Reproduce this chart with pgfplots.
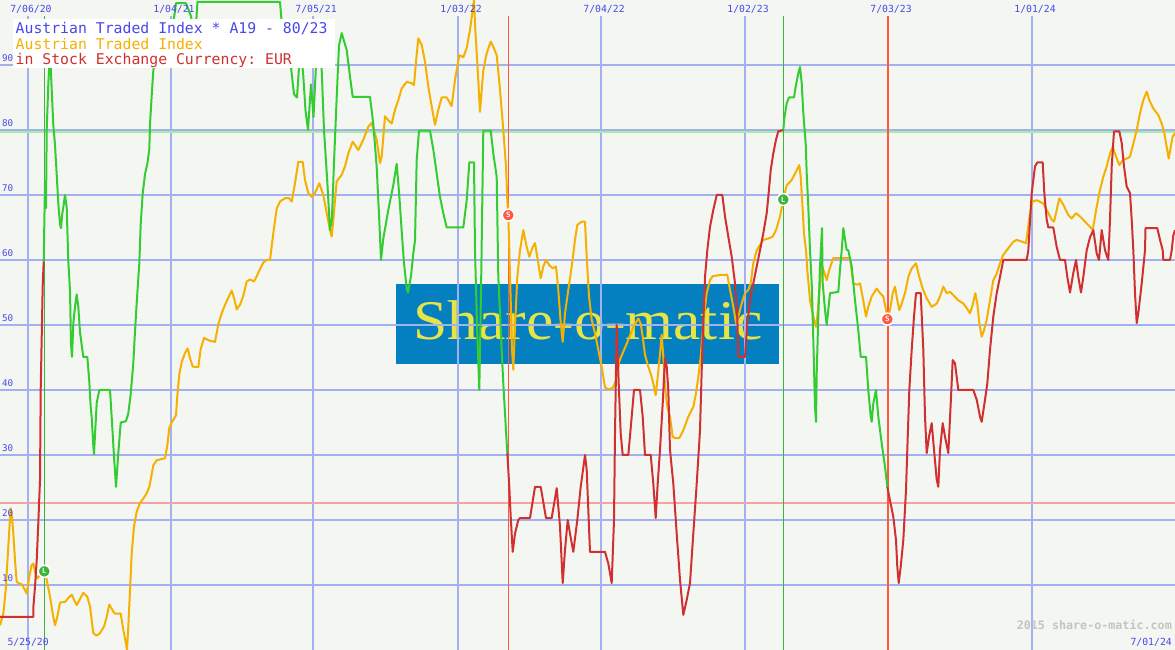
\documentclass[border=0pt]{standalone}
\usepackage{fontspec}
\setmainfont{Liberation Serif}
\setmonofont{DejaVu Sans Mono}
\usepackage{pgfplots}
\pgfplotsset{compat=1.18}

\definecolor{bg}{HTML}{F4F6F2}
\definecolor{gridblue}{HTML}{A3B1F1}
\definecolor{lblblue}{HTML}{4848E8}
\definecolor{sgreen}{HTML}{33CC33}
\definecolor{sorange}{HTML}{F5B000}
\definecolor{sred}{HTML}{D03030}
\definecolor{sigred}{HTML}{FF5A40}
\definecolor{siggreen}{HTML}{3CB43C}
\definecolor{thred}{HTML}{F4A3A3}
\definecolor{thgreen}{HTML}{A6EE9C}
\definecolor{logoblue}{HTML}{0480C0}
\definecolor{logoyellow}{HTML}{E8E446}
\definecolor{wmgrey}{HTML}{C4C4C4}

\tikzset{
  lbl/.style={inner sep=0pt, text=lblblue, font=\ttfamily\fontsize{9.8}{10}\selectfont},
  ttl/.style={anchor=base west, inner sep=0pt, font=\ttfamily\fontsize{14.8}{15}\selectfont},
}

\begin{document}
\begin{tikzpicture}
\fill[bg] (0,0) rectangle (1175pt,650pt);
\begin{axis}[
  at={(0,0)}, anchor=south west,
  width=1175pt, height=650pt, scale only axis,
  xmin=0, xmax=1175, ymin=0, ymax=100,
  hide axis, clip=true,
  every axis plot/.append style={line join=round},
]
% logo behind the grid
\node[fill=logoblue, minimum width=383pt, minimum height=80pt, inner sep=0pt, anchor=north west]
  at (axis cs:396,56.3) {};
\node[anchor=base, inner sep=0pt, font=\fontsize{56}{56}\selectfont, text=logoyellow, xscale=1.1]
  at (axis cs:588,47.8) {Share-o-matic};

% grid
\pgfplotsinvokeforeach{10,20,30,40,50,60,70,80,90}{
  \draw[gridblue, line width=2pt] (axis cs:0,#1) -- (axis cs:1175,#1);
}
\pgfplotsinvokeforeach{28,171,313,458,601,745,888,1032}{
  \draw[gridblue, line width=2pt] (axis cs:#1,0) -- (axis cs:#1,97.5);
}

% thresholds 80 / 23
\addplot[thgreen, line width=2pt] coordinates {(0,79.7) (1175,79.7)};
\addplot[thred, line width=2pt] coordinates {(0,22.6) (1175,22.6)};

% signal lines
\addplot[siggreen, line width=1pt] coordinates {(44.3,0) (44.3,97.5)};
\addplot[sigred, line width=1pt] coordinates {(508.3,0) (508.3,97.5)};
\addplot[siggreen, line width=1pt] coordinates {(783.3,0) (783.3,97.5)};
\addplot[sigred, line width=2pt] coordinates {(888,0) (888,97.5)};

% Austrian Traded Index (scaled)
\addplot[sorange, line width=2pt] coordinates {
(0,3.8) (3.3,5.6) (5.7,9.2) (7.3,13.3) (9.3,18.5) (10.7,21.8) (12,20.5) (13.3,18) (15,13.8)
(16.7,10.5) (18.3,10.3) (21.7,10.1) (24,9.5) (26.7,8.7) (29.3,11.3) (31.7,13.1) (33.3,13.3)
(35,12) (37,11) (40,11.5) (44.3,12.1) (46.7,10.8) (50,8.2) (52.7,5.6) (55,3.8) (57.3,5.1)
(60,7.3) (65,7.4) (68.3,8) (71.7,8.5) (76.7,6.9) (83.3,8.8) (87.3,8.2) (90,6.7) (93.3,2.6)
(96.7,2.2) (100,2.6) (104,3.6) (106.7,5.1) (109.3,7) (113.3,5.9) (115,5.6) (120.7,5.6)
(123.3,3.1) (126,1) (127,0) (128.3,3.6) (130,9.2) (131.7,14.9) (134,19) (136.7,21.3)
(140,22.6) (143.3,23.3) (146.7,24.1) (149.3,25.1) (150.7,26.2) (153.3,28.4) (156.7,29.2)
(165,29.5) (167.3,31.4) (169.3,34.2) (171.7,35) (176,36.1) (177.3,39.1) (179.3,42.4)
(181.7,44.3) (185,45.7) (187.7,46.4) (190,44.9) (192.7,43.6) (198.3,43.5) (200.7,46.3)
(204,48) (209.3,47.6) (215,47.4) (218.3,50.1) (221.7,51.8) (225,53.1) (228.3,54.2)
(231.7,55.3) (234.3,54) (236.7,52.4) (240,53.1) (243.3,54.5) (246.7,56.7) (250,57)
(254,56.7) (256.7,57.5) (260,58.6) (263.3,59.6) (266.7,60) (270,60) (273.3,64.1)
(276.7,67.9) (280,69) (285,69.5) (289,69.5) (291.7,69) (295,71.8) (298.3,75.1) (302.7,75.1)
(305,72.3) (308.3,70.3) (311.7,69.7) (315,70.3) (319.3,71.8) (323.3,70) (326.7,67.2)
(330,64.6) (331.7,63.6) (333.3,66.2) (336.7,72.1) (341.7,73.1) (345,74.4) (348.3,76.4)
(352.7,78.2) (358.3,76.9) (363.3,78.5) (368.3,80.5) (371.7,81.1) (376.7,78.5) (380,74.9)
(381.7,75.9) (385,82.1) (388.3,81.5) (391.7,81) (395,83.1) (398.3,84.6) (401.7,86.4)
(406.7,87.4) (411.7,87.2) (414,86.9) (416,90.5) (418.3,94.1) (421.7,93.1) (425,90.5)
(428.3,86.7) (431.7,83.6) (435,80.8) (438.3,83.1) (441.7,85) (446.7,85) (451.7,83.7)
(455,87.7) (459.3,91.5) (463.3,91.2) (466.7,92.6) (470,95.4) (472.7,98.5) (474,100)
(475.3,95.4) (477.3,90.3) (480,82.8) (483.3,89.2) (486.7,91.8) (490.7,93.6) (493.3,92.8)
(496.7,91.5) (500,86.2) (503.3,80) (506,74.4) (507.3,69.2) (508.3,66.9) (509.3,61.5)
(510.7,53.8) (512,46.2) (513.3,43.1) (515,49.7) (517.3,57.4) (520,61.5) (523.3,64.6)
(526.7,62) (529.3,60.5) (532.7,62) (535,62.6) (538.3,59.5) (540.7,57.2) (543.3,59) (546,60)
(549.3,59.2) (552.7,58.7) (556,59) (558.3,55.4) (560.7,50.3) (562.7,47.4) (565,51.8)
(568.3,55.4) (571.7,59) (575,63.1) (577.3,65.4) (581.7,65.9) (585,65.9) (586.7,60.5)
(589,54.4) (591.7,50.8) (595,48.7) (598.3,46.2) (601.7,43.6) (605,40.4) (608.3,40.1)
(612.7,40.3) (616,41.5) (619.3,44.4) (623.3,45.9) (628.3,47.7) (633.3,49.7) (638.3,51)
(640.7,50.2) (642.7,48.2) (645,45.4) (648.3,43.6) (651.7,42) (654,40.5) (655.7,39.2)
(657.7,42) (660,45.6) (661.7,48.5) (663.3,45.1) (665,40.5) (667.3,37.4) (670,35.9)
(672.7,32.8) (675,32.6) (679.3,32.6) (683.3,33.8) (688.3,35.9) (693.3,37.4) (696,39.5)
(698.3,42) (700.7,45.1) (703.3,50.3) (706.7,54.9) (710,56.9) (712.7,57.5) (720,57.7)
(727.3,57.7) (730,55.4) (733.3,52.8) (736,50.3) (738.3,51.3) (741.7,53.3) (745,54.9)
(748.3,55.4) (750.7,56.4) (753.3,59.5) (756.7,61.5) (760,62.3) (763.3,63.1) (768.3,63.3)
(772.7,63.6) (776,64.6) (780,66.7) (783.3,69.3) (786.7,71.5) (791.7,72.3) (795,73.3)
(799.3,74.6) (800.7,72.8) (802.3,68.7) (804,64.1) (806,61.5) (807.3,58.5) (810,53.8)
(813.3,51.3) (816,49.7) (817.3,51.3) (820,56.4) (821.7,59) (823.3,58.5) (826.7,56.9)
(829.3,58.5) (833.3,60.3) (850,60.3) (853.3,56.4) (856.7,56.2) (860,56.4) (863.3,53.8)
(866,51.3) (868.3,52.8) (871.7,54.4) (876.7,55.6) (880,54.9) (883.3,54.4) (886,52.3)
(887.3,50.9) (890,52.3) (892.7,54.9) (895,55.9) (897.3,53.8) (899.3,52.3) (901.7,53.3)
(905,54.9) (908.3,57.4) (911.7,58.7) (916,59.5) (919.3,57.4) (922.7,55.6) (926.7,54.1)
(931.7,52.8) (936.7,53.3) (940,54.4) (943.3,55.9) (946.7,54.9) (950,55.1) (953.3,54.6)
(958.3,53.8) (963.3,53.3) (966.7,52.6) (970,51.8) (972.7,53.1) (975.3,54.9) (977.3,53.3)
(979.3,50.3) (981.7,48.2) (984,49.2) (986.7,50.8) (990,53.8) (993.3,56.9) (996.7,57.9)
(1000,59.5) (1003.3,60.8) (1006.7,61.5) (1013.3,62.8) (1016.7,63.1) (1026,62.6)
(1027.3,64.1) (1030,67.2) (1032.7,69) (1036.7,69.2) (1043.3,68.7) (1046.7,67.7)
(1051.7,66.2) (1054,65.9) (1056,67.2) (1059.3,69.5) (1063.3,68.5) (1068.3,66.9)
(1071.7,66.4) (1076,67.2) (1080,66.7) (1085,65.9) (1090,65.1) (1092.7,64.6) (1096.7,68.2)
(1100,70.8) (1103.3,72.8) (1106.7,74.4) (1110,76.4) (1112.7,77.4) (1116,75.9) (1119.3,74.6)
(1123.3,75.4) (1126.7,75.6) (1130,75.9) (1133.3,77.9) (1136.7,80) (1140,82.6) (1143.3,84.6)
(1146.7,85.9) (1149.3,84.6) (1153.3,83.3) (1158.3,82.3) (1161.7,81) (1164.3,79.5)
(1166.7,77.4) (1168.7,75.6) (1170.7,77.4) (1172.7,79) (1175,79.5)
};

% A19 indicator: red while short, green while long
\addplot[sred, line width=2pt] coordinates {
(0,5.1) (33.3,5.1) (33.3,6.5) (35,9.7) (36.7,13.8) (38.3,19.5) (39.3,23.5) (40,26)
(40.7,40) (41.7,48) (42.7,56) (43.7,59.8)
};
\addplot[sgreen, line width=2pt] coordinates {
(43.7,59.8) (45,72) (46,68) (46.7,80) (48.3,87) (50,92) (53.3,80.8) (55,77.7) (56.7,73.2)
(58.3,68.7) (60,65.5) (61,64.9) (62,66.8) (63.3,68.1) (65,70) (66.7,68.1) (68.3,59.8)
(70,55.3) (71,47) (72,45.1) (73.3,50.2) (75,52.8) (76.7,54.7) (78.3,52.8) (80,48.9)
(83.3,45.1) (87.3,45.1) (89.3,41.3) (90.7,37.4) (91.7,35.8) (93.3,31.4) (94,30.1) (95,33.1)
(96.7,38) (99.3,40) (110,40) (111.7,35.8) (114,29.8) (116,25.1) (118.3,30.3) (120.7,35)
(126,35.2) (128.3,36.4) (130.7,39.4) (133.3,44.1) (135,49) (136.7,53.4) (139.3,59.5)
(140.7,65.5) (142.7,70.2) (145,73.2) (147.3,74.8) (149.3,77) (150,80.9) (151.7,85.3)
(153.3,89.1) (155,91) (160,93) (166,94) (172,95) (176,99.5) (186,99.5) (191,97.5) (195,94)
(197.5,99.7) (280,99.7) (282,96) (286,92) (290,91) (294,85.5) (297,85) (300,92) (303,89)
(305.5,83) (308,80) (311,87) (313.5,82) (316,90) (321,92) (324,80) (327.3,72) (330,64.6)
(332,66.5) (334,75) (336.7,85) (339,93) (341.7,94.9) (346.7,92.3) (350,88.2) (352.7,85.1)
(370,85.1) (373.3,80.9) (376.7,74.3) (379.3,66) (381,60) (383.3,63.3) (388.3,67.7)
(393.3,71.5) (396.7,74.8) (399.3,69.9) (401.7,64.4) (404,59.5) (406.7,55.6) (408,55)
(411,57.5) (413.3,61) (415,63) (416.7,75.4) (419,79.9) (430,79.9) (433.3,77) (436.7,73.3)
(440,69.7) (443.3,67.2) (446.7,65) (463.3,65) (466.7,69.2) (469.3,75) (474,75) (475,61.5)
(477,50) (479.3,40) (481,55) (483.3,79.9) (490.7,79.9) (493.3,76.4) (496.7,72.8)
(498.3,57.4) (501.7,46.1) (503.3,41) (505,36.4) (506.7,31.8) (507.3,30.3)
};
\addplot[sred, line width=2pt] coordinates {
(507.3,30.3) (509.3,25.1) (510.7,20.5) (512.7,15.1) (515,17.9) (518.3,20) (520,20.3)
(530,20.3) (535,25.1) (540.7,25.1) (546,20.3) (551.7,20.3) (556.7,24.9) (560,19)
(562.7,10.3) (565,15.4) (567.7,20) (570,17.9) (573.3,15.1) (577.3,20) (580.7,25.1) (585,30)
(586.7,27.7) (590,15.1) (605,15.1) (608.3,13.3) (611.7,10.3) (614,20) (615,33.3)
(616.7,50) (618.7,41) (620.7,33.3) (622.7,30) (628.3,30) (631.7,35.9) (634,40) (640,40)
(642.7,35.9) (645,30) (650.7,30) (653.3,25.6) (655.7,20.3) (657.7,25.6) (660,30.8)
(662.7,37.9) (665,44.9) (666.7,43.6) (668.3,40) (670,30.8) (673.3,25.6) (676.7,17.9)
(680,10.8) (683.3,5.4) (686.7,7.7) (690,10.3) (693.3,17.9) (696.7,25.6) (700,33.8)
(702.3,46.2) (705,57.4) (707.3,61.5) (710,65.1) (713.3,67.7) (716.7,70) (722.3,70)
(725,66.7) (728.3,63.6) (731.7,60.5) (735,56.4) (737.3,51.3) (738.3,45.1) (745,45.1)
(747.3,50.2) (750,53.8) (753.3,56.4) (756.7,59) (760,61.5) (763.3,64.1) (766.7,67.2)
(768.3,69.7) (770.7,73.8) (773.3,76.4) (776,78.5) (778.3,79.8) (783.3,80)
};
\addplot[sgreen, line width=2pt] coordinates {
(783.3,80) (784.3,81.8) (786.7,84.1) (789,85) (794,85) (795.7,86.7) (798.3,88.7) (800,89.7)
(801.7,87.2) (803.3,82.6) (805.7,77.9) (806.7,73.3) (808.3,68.2) (810,61.5) (811.7,56.4)
(813.3,47.7) (815,37.4) (816,35.1) (816.7,42.6) (818.3,51.3) (820,59) (822,64.9)
(822.7,56.4) (825,52.3) (826.7,50) (830,54.9) (838.3,55.1) (840,58.5) (841.7,61.5)
(843.3,64.9) (846.7,61.5) (848.3,61.5) (851.7,59) (855,53.8) (858.3,49.2) (860.7,45.1)
(866,45.1) (868.3,40) (870.7,35.9) (871.7,35.1) (873.3,37.9) (876,40) (878.3,35.9)
(881.7,31.8) (885,28.2) (887.3,25.1)
};
\addplot[sred, line width=2pt] coordinates {
(887.3,25.1) (890,23) (893.3,20.5) (896,16.9) (897.3,12.8) (898.7,10.3) (900.7,12.8)
(903.3,16.9) (906,24.6) (907.3,30.8) (909.3,40) (911.7,46.2) (914,51.3) (916,54.9)
(920.7,54.9) (923.3,46.2) (925,35.9) (926.7,30.3) (929,32.8) (931.7,34.9) (934,30.8)
(936.7,26.2) (938.3,25.1) (940,30.8) (942.7,34.9) (945,32.8) (948.3,30.3) (950.7,37.9)
(952.7,44.6) (955,44.1) (958.3,40) (973.3,40) (976.7,38.5) (980,35.9) (981.7,35.1)
(985,38.5) (987.3,41) (990,46.2) (993.3,51.3) (996.7,54.9) (1000,57.4) (1003.3,60)
(1026.7,60) (1028.3,61.5) (1031.7,70.3) (1035,74.4) (1037.3,75) (1042.7,75) (1044.3,70.3)
(1046.7,66.2) (1048.3,65) (1053.3,65) (1056.7,62) (1060,60) (1065,60) (1067.3,57.4)
(1070,55) (1073.3,58) (1076,60) (1078.3,57.4) (1081,55) (1083.3,57.4) (1086.7,61.5)
(1090,63.5) (1093.3,64.6) (1096.7,61) (1099,60) (1101.7,64.6) (1105,61.5) (1108.3,60)
(1110,66.2) (1111.7,74.4) (1114,79.8) (1119.3,79.8) (1121.7,78) (1124,74.4) (1126.7,71.3)
(1130,70.3) (1131.7,66.2) (1133.3,61.5) (1135,54.9) (1136.7,50.3) (1138.3,51.8)
(1141.7,56.4) (1145,61.5) (1145.5,64.9) (1157.3,64.9) (1160,63.1) (1162.7,61.5)
(1163.3,60) (1170,60) (1171.7,61.5) (1173.3,63.8) (1175,64.6)
};

% signal markers on the index line
\addplot[only marks, mark=*, mark size=6pt,
  mark options={fill=siggreen, draw=white, line width=1.5pt}]
  coordinates {(44.3,12.1) (783.3,69.3)};
\addplot[only marks, mark=*, mark size=6pt,
  mark options={fill=sigred, draw=white, line width=1.5pt}]
  coordinates {(508.3,66.9) (887.3,50.9)};
\addplot[only marks, mark=text,
  text mark={\color{white}\sffamily\bfseries\fontsize{7.5}{7.5}\selectfont L}]
  coordinates {(44.3,12.1) (783.3,69.3)};
\addplot[only marks, mark=text,
  text mark={\color{white}\sffamily\bfseries\fontsize{7.5}{7.5}\selectfont S}]
  coordinates {(508.3,66.9) (887.3,50.9)};

% title box
\fill[white] (axis cs:12.7,97.1) rectangle (axis cs:335,89.5);
\node[ttl, text=lblblue] at (axis cs:15.5,94.85) {Austrian Traded Index * A19 - 80/23};
\node[ttl, text=sorange] at (axis cs:15.5,92.4) {Austrian Traded Index};
\node[ttl, text=sred] at (axis cs:15.5,90.0) {in Stock Exchange Currency: EUR};

% value labels
\pgfplotsinvokeforeach{10,20,30,40,50,60,70,80,90}{
  \node[lbl, anchor=base west, font=\ttfamily\fontsize{9.2}{9}\selectfont] at (axis cs:2,#1+0.5) {#1};
}
% date labels
\node[lbl, anchor=base] at (axis cs:31,98) {7/06/20};
\node[lbl, anchor=base] at (axis cs:174,98) {1/04/21};
\node[lbl, anchor=base] at (axis cs:316,98) {7/05/21};
\node[lbl, anchor=base] at (axis cs:461,98) {1/03/22};
\node[lbl, anchor=base] at (axis cs:604,98) {7/04/22};
\node[lbl, anchor=base] at (axis cs:748,98) {1/02/23};
\node[lbl, anchor=base] at (axis cs:891,98) {7/03/23};
\node[lbl, anchor=base] at (axis cs:1035,98) {1/01/24};
\node[lbl, anchor=base west] at (axis cs:7.3,0.66) {5/25/20};
\node[lbl, anchor=base east] at (axis cs:1172,0.66) {7/01/24};
\node[anchor=base east, inner sep=0pt, text=wmgrey, font=\ttfamily\bfseries\fontsize{11.7}{12}\selectfont]
  at (axis cs:1172,3.2) {2015 share-o-matic.com};
\end{axis}
\end{tikzpicture}
\end{document}
